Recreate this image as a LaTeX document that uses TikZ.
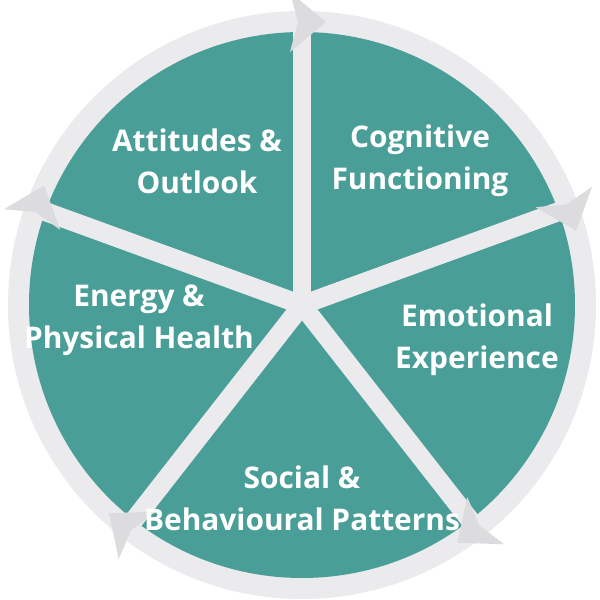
\documentclass[tikz,border=0pt]{standalone}
\usepackage{fontspec}
\setmainfont{Open Sans}
\usetikzlibrary{arrows.meta, calc}

\definecolor{wheelteal}{HTML}{4A9E98}
\definecolor{ringgray}{HTML}{EBEBED}
\definecolor{headgray}{HTML}{DCDCDE}

\begin{document}
\begin{tikzpicture}[x=0.02cm, y=0.02cm, >=Stealth,
    every node/.style={font=\bfseries\fontsize{17}{24}\selectfont, text=white, align=center},
    spoke/.style={ringgray, line width=0.38cm},
    arrowhead/.style={fill=headgray}]
                \useasboundingbox[fill=white] (0,0) rectangle (600,600);
                % Centre of the wheel
                \coordinate (O) at (302,295);

                % Outer ring and teal disc
                \fill[ringgray] (O) circle (294);
                \fill[wheelteal] (O) circle (273);

                % Spokes
                \foreach \a/\n in {90/1, 20/2, -52/3, -128/4, 160/5} {
                    \coordinate (e\n) at ($(O)+(\a:284)$);
                    \draw[spoke] (O) -- (e\n);
                }

                % Arrowheads on the ring (clockwise)
                \foreach \a in {90, 20, -52, -128, 160}
                    \fill[arrowhead, shift={(O)}, rotate=\a-90]
                        (24,283) -- (-12,313) -- (-4,283) -- (-12,253) -- cycle;

                % Labels
                \node (attitudes) at (197,439) {Attitudes \&\\Outlook};
                \node (cognitive) at (420,439) {Cognitive\\Functioning};
                \node (energy) at (139,280) {Energy \&\\Physical Health};
                \node (emotional) at (477,260) {Emotional\\Experience};
                \node (social) at (302,102) {Social \&\\Behavioural Patterns};
            \end{tikzpicture}
\end{document}
